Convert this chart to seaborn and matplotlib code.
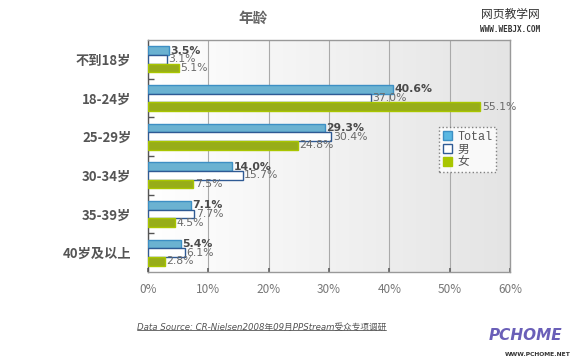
import matplotlib
matplotlib.use("Agg")
import matplotlib.pyplot as plt
import seaborn as sns
import numpy as np
import pandas as pd
from matplotlib.patches import Patch

ages = ["不到18岁", "18-24岁", "25-29岁", "30-34岁", "35-39岁", "40岁及以上"]
series = ["Total", "男", "女"]
total = [3.5, 40.6, 29.3, 14.0, 7.1, 5.4]
male = [3.1, 37.0, 30.4, 15.7, 7.7, 6.1]
female = [5.1, 55.1, 24.8, 7.5, 4.5, 2.8]
xticks = [0, 10, 20, 30, 40, 50, 60]

df = pd.DataFrame({
    "age": ages * 3,
    "series": [s for s in series for _ in ages],
    "value": total + male + female,
})

sns.set_theme(style="white")
plt.rcParams["font.family"] = ["Noto Sans CJK SC", "DejaVu Sans"]

fills = {"Total": "#5ab8e2", "男": "#ffffff", "女": "#a9c600"}
edges = {"Total": "#3d8fc4", "男": "#2f5a94", "女": "#a9c600"}

fig = plt.figure(figsize=(5.8, 3.63), dpi=100)
ax = fig.add_axes([148 / 580, 1 - 272 / 363, (510 - 148) / 580, (272 - 40) / 363])

# light background gradient in the plot area
grad = np.linspace(0, 1, 256).reshape(1, -1)
ax.imshow(grad, extent=[0, 1, 0, 1], transform=ax.transAxes, aspect="auto",
          cmap=matplotlib.colors.LinearSegmentedColormap.from_list("bg", ["#ffffff", "#e4e4e4"]),
          zorder=0)

sns.barplot(data=df, y="age", x="value", hue="series", order=ages, hue_order=series,
            palette=fills, orient="h", width=0.68, dodge=True, ax=ax, legend=False,
            zorder=3)

for cont, s in zip(ax.containers, series):
    for bar in cont:
        bar.set_edgecolor(edges[s])
        bar.set_linewidth(1.0)
    vals = df.loc[df.series == s, "value"].tolist()
    labels = [f"{v:.1f}%" for v in vals]
    if s == "Total":
        ax.bar_label(cont, labels=labels, padding=1, fontsize=7.8, fontweight="bold",
                     color="#4a4a4a", family="DejaVu Sans")
    else:
        ax.bar_label(cont, labels=labels, padding=1, fontsize=7.8, color="#6a6a6a",
                     family="DejaVu Sans")

ax.set_xlim(0, 60)
ax.set_ylim(len(ages) - 0.5, -0.5)
ax.set_xticks(xticks)
ax.set_xticklabels([f"{t}%" for t in xticks], fontsize=8.5, color="#777777")
ax.set_yticks(range(len(ages)))
ax.set_yticklabels(ages, fontsize=9.5, fontweight="bold", color="#555555")
ax.set_yticks(np.arange(0.5, len(ages) - 0.5, 1), minor=True)
ax.tick_params(axis="y", which="major", length=0, pad=12)
ax.tick_params(axis="y", which="minor", direction="in", length=4, color="#555555", left=True)
ax.tick_params(axis="x", direction="in", length=3, color="#666666", pad=8, bottom=True)
ax.set_xlabel("")
ax.set_ylabel("")
ax.grid(axis="x", color="#aaaaaa", linewidth=0.8, zorder=1)
ax.set_axisbelow(True)
for name, sp in ax.spines.items():
    sp.set_visible(True)
    sp.set_color("#999999")
    sp.set_linewidth(1.0)
ax.spines["left"].set_color("#555555")

handles = [Patch(facecolor=fills[s], edgecolor=edges[s], label=s) for s in series]
leg = ax.legend(handles=handles, loc="upper left", bbox_to_anchor=((433 - 148) / 362, 1 - (121 - 40) / 232),
                frameon=True, handlelength=0.8, handleheight=0.8,
                handletextpad=0.4, labelspacing=0.05, borderpad=0.35, fancybox=False,
                prop={"family": ["Liberation Mono", "Noto Sans CJK SC"], "size": 8.5})
leg.get_frame().set_edgecolor("#666666")
leg.get_frame().set_linestyle(":")
leg.get_frame().set_linewidth(1.0)
for t in leg.get_texts():
    t.set_color("#555555")

fig.text(253 / 580, 1 - 18 / 363, "年龄", ha="center", va="center", fontsize=10.5,
         fontweight="bold", color="#666666")
fig.text(510 / 580, 1 - 14 / 363, "网页教学网", ha="center", va="center", fontsize=8.5, color="#333333")
fig.text(510 / 580, 1 - 29 / 363, "WWW.WEBJX.COM", ha="center", va="center", fontsize=5.5,
         fontweight="bold", color="#333333", family="DejaVu Sans Mono")

src = fig.text(137 / 580, 1 - 327 / 363, "Data Source: CR-Nielsen2008年09月PPStream受众专项调研",
               ha="left", va="center", color="#555555",
               fontproperties=matplotlib.font_manager.FontProperties(
                   family=["DejaVu Sans", "Noto Sans CJK SC"], size=6.2, style="italic"))
fig.canvas.draw()
bb = src.get_window_extent()
fig.add_artist(plt.Line2D([bb.x0 / 580, bb.x1 / 580], [bb.y0 / 363 + 0.004, bb.y0 / 363 + 0.004],
                          color="#555555", linewidth=0.6, transform=fig.transFigure))

fig.text(525 / 580, 1 - 335 / 363, "PCHOME", ha="center", va="center", fontsize=11,
         fontweight="bold", style="italic", color="#6a5fb8", family="DejaVu Sans")
fig.text(538 / 580, 1 - 354 / 363, "WWW.PCHOME.NET", ha="center", va="center", fontsize=4.3,
         fontweight="bold", color="#333333", family="DejaVu Sans")

fig.savefig("out.png", dpi=100, facecolor="white")
